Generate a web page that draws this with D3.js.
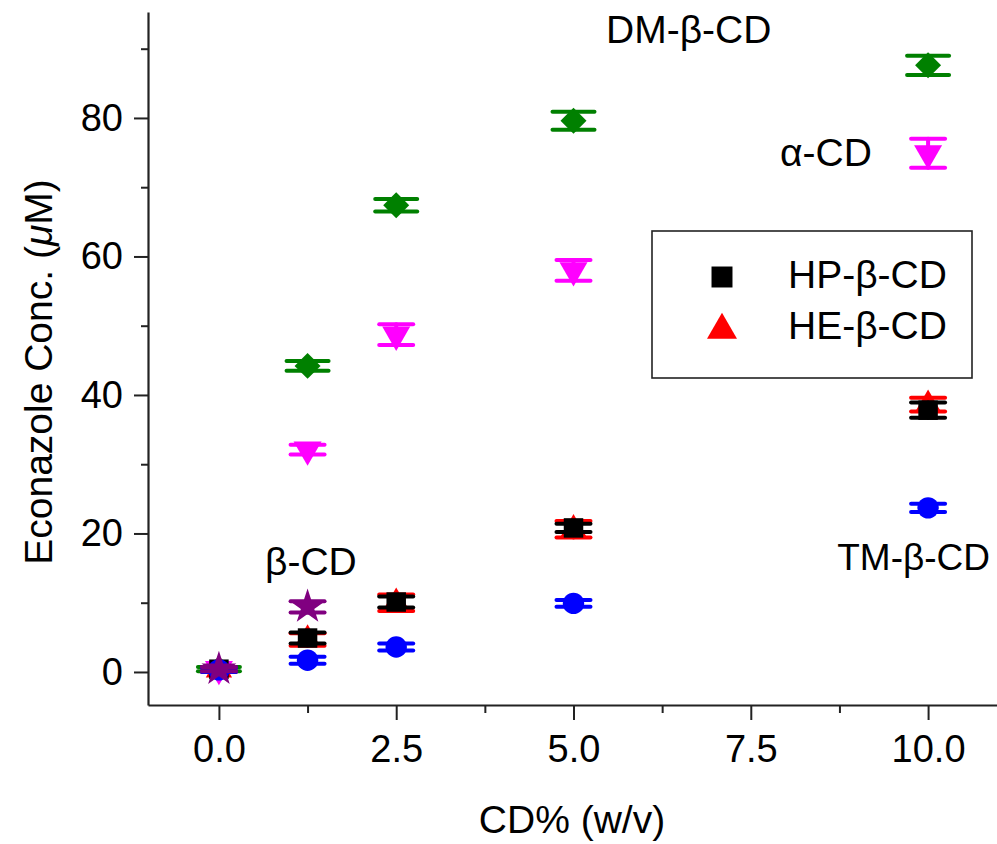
<!DOCTYPE html>
<html>
<head>
<meta charset="utf-8">
<script src="https://cdn.jsdelivr.net/npm/d3@7/dist/d3.min.js"></script>
<style>
  html, body { margin: 0; padding: 0; background: #fff; }
  svg text { font-family: "Liberation Sans", Arial, sans-serif; fill: #000; }
</style>
</head>
<body>
<svg id="chart" width="997" height="844"></svg>
<script>
// ---- data ----
const cdPercent = [0, 1.25, 2.5, 5.0, 10.0];
const xTickValues = [0, 2.5, 5.0, 7.5, 10.0];
const xMinorTicks = [1.25, 3.75, 6.25, 8.75];
const yTickValues = [0, 20, 40, 60, 80];
const yMinorTicks = [10, 30, 50, 70, 90];

const dmBetaCD   = [0.4, 44.2, 67.4, 79.6, 87.6];
const dmBetaErr  = [0.3, 0.7, 0.9, 1.3, 1.4];
const alphaCD    = [0.4, 32.1, 48.7, 58.0, 74.9];
const alphaErr   = [0.3, 0.7, 1.5, 1.5, 2.1];
const heBetaCD   = [0.3, 4.7, 10.0, 20.6, 38.6];
const heBetaErr  = [0.3, 0.9, 1.2, 1.2, 1.0];
const hpBetaCD   = [0.4, 4.9, 10.1, 20.8, 37.8];
const hpBetaErr  = [0.3, 0.8, 0.8, 0.6, 1.1];
const tmBetaCD   = [0.3, 1.7, 3.6, 9.9, 23.7];
const tmBetaErr  = [0.3, 0.5, 0.5, 0.5, 0.6];
const betaCDx    = [0, 1.25];
const betaCD     = [0.4, 9.4];
const betaErr    = [0.3, 0.8];

const legendNames = ["HP-β-CD", "HE-β-CD"];

// ---- styles ----
const series = [
  {x: cdPercent, y: dmBetaCD, e: dmBetaErr, color: "#008000", sym: d3.symbolDiamond2, size: 430, rot: 0, cap: 21},
  {x: cdPercent, y: alphaCD,  e: alphaErr,  color: "#ff00ff", sym: d3.symbolTriangle, size: 340, rot: 180, cap: 17},
  {x: cdPercent, y: heBetaCD, e: heBetaErr, color: "#ff0000", sym: d3.symbolTriangle, size: 300, rot: 0, cap: 17},
  {x: cdPercent, y: hpBetaCD, e: hpBetaErr, color: "#000000", sym: d3.symbolSquare, size: 380, rot: 0, cap: 17},
  {x: cdPercent, y: tmBetaCD, e: tmBetaErr, color: "#0000ff", sym: d3.symbolCircle, size: 360, rot: 0, cap: 17},
  {x: betaCDx,   y: betaCD,   e: betaErr,   color: "#800080", sym: d3.symbolStar, size: 380, rot: 0, cap: 17}
];

const svg = d3.select("#chart");
const x = d3.scaleLinear().domain([-1, 11]).range([148, 999]);
const y = d3.scaleLinear().domain([-4.77, 95.3]).range([705, 12]);

const FONT = 38;

// axes
const gx = svg.append("g").attr("transform", "translate(0,705)");
gx.call(d3.axisBottom(x).tickValues(xTickValues).tickFormat(d3.format(".1f")).tickSize(15).tickPadding(15).tickSizeOuter(0));
const gxm = svg.append("g").attr("transform", "translate(0,705)");
gxm.call(d3.axisBottom(x).tickValues(xMinorTicks).tickFormat("").tickSize(8).tickSizeOuter(0));
gxm.select(".domain").remove();

const gy = svg.append("g").attr("transform", "translate(148,0)");
gy.call(d3.axisLeft(y).tickValues(yTickValues).tickFormat(d3.format("d")).tickSize(14).tickPadding(11).tickSizeOuter(0));
const gym = svg.append("g").attr("transform", "translate(148,0)");
gym.call(d3.axisLeft(y).tickValues(yMinorTicks).tickFormat("").tickSize(7).tickSizeOuter(0));
gym.select(".domain").remove();

svg.selectAll(".domain").attr("stroke", "#222").attr("stroke-width", 2.2);
svg.selectAll(".tick line").attr("stroke", "#222").attr("stroke-width", 2);
svg.selectAll(".tick text").attr("font-size", FONT).attr("font-family", "Liberation Sans, Arial, sans-serif").attr("fill", "#000");

// axis titles
svg.append("text").attr("x", 572).attr("y", 833).attr("text-anchor", "middle")
  .attr("font-size", 39).text("CD% (w/v)");
const yt = svg.append("text").attr("transform", "translate(52,372) rotate(-90)")
  .attr("text-anchor", "middle").attr("font-size", 39);
yt.append("tspan").text("Econazole Conc. (");
yt.append("tspan").attr("font-style", "italic").text("μ");
yt.append("tspan").text("M)");

// series
const gData = svg.append("g");
series.forEach(s => {
  const g = gData.append("g");
  s.y.forEach((v, i) => {
    const cx = x(s.x[i]), cy = y(v);
    const top = y(v + s.e[i]), bot = y(v - s.e[i]);
    const pg = g.append("g").attr("stroke", s.color).attr("stroke-width", 4).attr("stroke-linecap", "round");
    pg.append("line").attr("x1", cx).attr("x2", cx).attr("y1", top).attr("y2", bot);
    pg.append("line").attr("x1", cx - s.cap).attr("x2", cx + s.cap).attr("y1", top).attr("y2", top);
    pg.append("line").attr("x1", cx - s.cap).attr("x2", cx + s.cap).attr("y1", bot).attr("y2", bot);
    g.append("path").attr("d", d3.symbol(s.sym, s.size)())
      .attr("transform", `translate(${cx},${cy}) rotate(${s.rot})`)
      .attr("fill", s.color);
  });
});

// annotations
const ann = [
  {t: "DM-β-CD", x: 606, y: 43, a: "start"},
  {t: "α-CD", x: 780, y: 166, a: "start"},
  {t: "β-CD", x: 265, y: 575, a: "start"},
  {t: "TM-β-CD", x: 990, y: 570, a: "end"}
];
svg.append("g").selectAll("text").data(ann).join("text")
  .attr("x", d => d.x).attr("y", d => d.y).attr("text-anchor", d => d.a)
  .attr("font-size", d => d.a === "end" ? 37 : 39).text(d => d.t);

// legend
const lg = svg.append("g");
lg.append("rect").attr("x", 652).attr("y", 231).attr("width", 320).attr("height", 147)
  .attr("fill", "#fff").attr("stroke", "#222").attr("stroke-width", 1.6);
lg.append("path").attr("d", d3.symbol(d3.symbolSquare, 440)()).attr("transform", "translate(722,277)").attr("fill", "#000");
lg.append("path").attr("d", d3.symbol(d3.symbolTriangle, 390)()).attr("transform", "translate(722,330)").attr("fill", "#ff0000");
lg.selectAll("text.leg").data(legendNames).join("text").attr("class", "leg")
  .attr("x", 788).attr("y", (d, i) => 288 + i * 51).attr("font-size", 39).text(d => d);
</script>
</body>
</html>
